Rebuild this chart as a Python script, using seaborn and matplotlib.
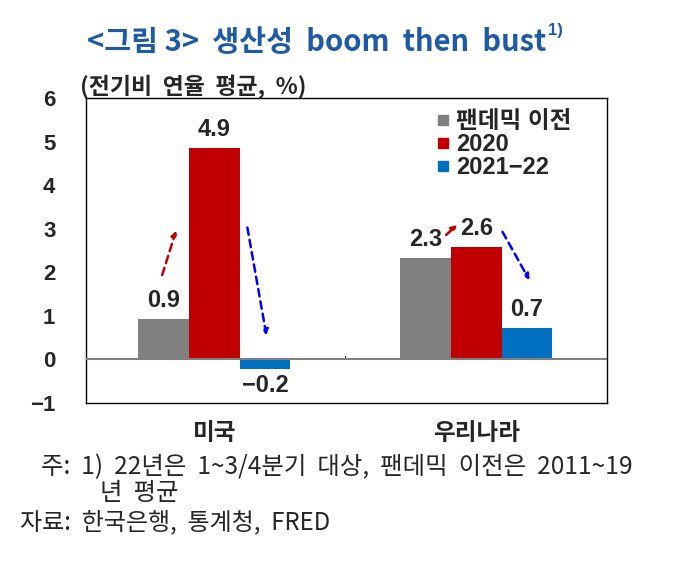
import numpy as np
import pandas as pd
import matplotlib
matplotlib.use("Agg")
import matplotlib.pyplot as plt
from matplotlib.lines import Line2D
import seaborn as sns

# data
countries = ["미국", "우리나라"]
periods = ["팬데믹 이전", "2020", "2021−22"]
pre_pandemic = [0.94, 2.32]
y2020 = [4.86, 2.59]
y2021_22 = [-0.23, 0.73]
value_labels = [["0.9", "2.3"], ["4.9", "2.6"], ["−0.2", "0.7"]]
colors = ["#808080", "#C00000", "#0070C0"]

sns.set_theme(style="white")
plt.rcParams["font.family"] = ["Liberation Sans", "Noto Sans CJK KR"]
plt.rcParams["axes.unicode_minus"] = True

df = pd.DataFrame({
    "country": countries * 3,
    "period": np.repeat(periods, 2),
    "value": pre_pandemic + y2020 + y2021_22,
})

fig = plt.figure(figsize=(6.77, 5.61), dpi=100)
ax = fig.add_axes([0.127, 0.2816, 0.770, 0.5435])

sns.barplot(data=df, x="country", y="value", hue="period", hue_order=periods,
            palette=colors, width=0.58, saturation=1, ax=ax, legend=False,
            edgecolor="none", linewidth=0)

ax.set_xlim(-0.49, 1.5)
ax.set_ylim(-1, 6)
ax.set_yticks(range(-1, 7))
ax.set_yticklabels([str(v).replace("-", "−") for v in range(-1, 7)],
                   fontsize=16, fontweight="bold")
ax.set_xticks([0, 1])
ax.set_xticklabels(countries, fontsize=17, fontweight="bold",
                   family=["Noto Sans CJK KR"])
ax.tick_params(axis="x", length=0, pad=13)
ax.tick_params(axis="y", length=3, direction="in", pad=22, width=0.8)
ax.set_xlabel("")
ax.set_ylabel("")
for s in ax.spines.values():
    s.set_color("black")
    s.set_linewidth(1.0)

ax.axhline(0, color="#808080", lw=1.5, zorder=3)
ax.plot([0.5, 0.5], [0, 0.08], color="black", lw=0.8)

# value labels
for i, bars in enumerate(ax.containers):
    for j, bar in enumerate(bars):
        h = bar.get_height()
        x = bar.get_x() + bar.get_width() / 2
        if h >= 0:
            ax.text(x, h + 0.16, value_labels[i][j], ha="center", va="bottom",
                    fontsize=17, fontweight="bold")
        else:
            ax.text(x, h - 0.1, value_labels[i][j], ha="center", va="top",
                    fontsize=17, fontweight="bold")

# trend arrows
arrows = [((-0.199, 1.94), (-0.146, 2.96), "#C00000"),
          ((0.126, 3.03), (0.199, 0.55), "#0000FF"),
          ((0.885, 2.86), (0.927, 3.09), "#C00000"),
          ((1.10, 2.93), (1.203, 1.82), "#0000FF")]
for start, end, c in arrows:
    ax.annotate("", xy=end, xytext=start,
                arrowprops=dict(arrowstyle="-|>", color=c, lw=1.8,
                                linestyle=(0, (3, 2)), mutation_scale=8,
                                shrinkA=0, shrinkB=0))

handles = [Line2D([], [], marker="s", ls="none", color=c, markersize=7)
           for c in colors]
ax.legend(handles, periods, loc="upper right", bbox_to_anchor=(0.972, 1.03),
          frameon=False, handlelength=0.5, handletextpad=0.3,
          labelspacing=0.0, prop=dict(size=17, weight="bold",
                                      family=["Liberation Sans", "Noto Sans CJK KR"]))

title = fig.text(0.128, 0.925, "<그림 3>  생산성  boom  then  bust", fontsize=21,
                 fontweight="bold", color="#1F5AA6", family=["Noto Sans CJK KR"],
                 va="center")
fig.canvas.draw()
bb = title.get_window_extent().transformed(fig.transFigure.inverted())
fig.text(bb.x1 + 0.003, 0.945, "1)", fontsize=12, fontweight="bold",
         color="#1F5AA6", va="center")
fig.text(0.118, 0.845, "(전기비  연율  평균,  %)", fontsize=16.5, fontweight="bold",
         family=["Noto Sans CJK KR"], va="center")

note_font = ["Noto Sans CJK KR"]
fig.text(0.06, 0.167, "주:  1)  22년은  1~3/4분기  대상,  팬데믹  이전은  2011~19",
         fontsize=17.6, family=note_font, va="center")
fig.text(0.148, 0.122, "년  평균", fontsize=17.6, family=note_font, va="center")
fig.text(0.03, 0.069, "자료:  한국은행,  통계청,  FRED", fontsize=17.3,
         family=note_font, va="center")

fig.savefig("out.png", dpi=100)
